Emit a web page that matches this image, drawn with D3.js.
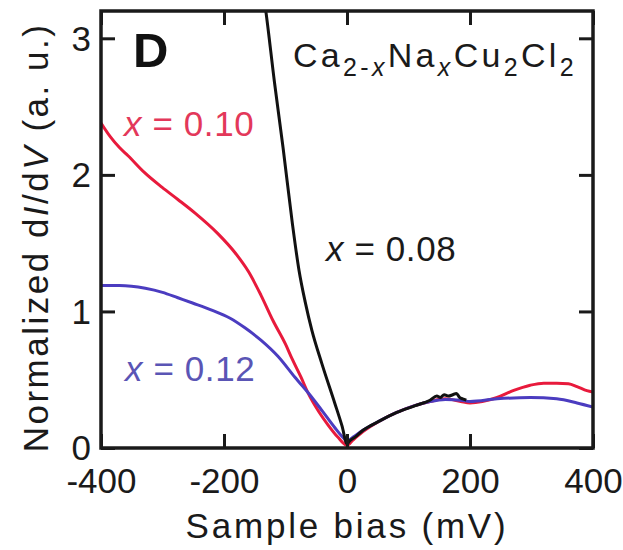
<!DOCTYPE html>
<html>
<head>
<meta charset="utf-8">
<script src="https://cdn.jsdelivr.net/npm/d3@7"></script>
<style>
  html, body { margin: 0; padding: 0; background: #fff; }
  svg { display: block; font-family: "Liberation Sans", Arial, Helvetica, sans-serif; }
</style>
</head>
<body>
<svg id="chart" width="623" height="550"></svg>
<script>
// Sample bias (mV) and normalized dI/dV for each Na doping level
const biasX008 = [-140, -132, -118, -104, -89, -78, -68, -57, -41, -20, -8, 0, 4, 13, 26, 54, 81, 111, 135, 146, 152, 158, 165, 172, 178, 183, 188, 194];
const didvX008 = [3.45, 3.20, 2.68, 2.20, 1.65, 1.30, 1.07, 0.86, 0.62, 0.33, 0.16, 0.03, 0.05, 0.08, 0.13, 0.20, 0.26, 0.31, 0.35, 0.38, 0.37, 0.39, 0.38, 0.39, 0.40, 0.37, 0.36, 0.35];

const biasX010 = [-400, -385, -370, -356, -330, -301, -275, -247, -210, -182, -160, -140, -120, -100, -89, -75, -63, -45, -31, -15, 0, 10, 26, 54, 81, 110, 135, 160, 185, 200, 220, 244, 270, 298, 320, 341, 360, 374, 390, 400];
const didvX010 = [2.38, 2.28, 2.20, 2.14, 2.02, 1.91, 1.82, 1.72, 1.57, 1.43, 1.29, 1.12, 0.93, 0.76, 0.65, 0.52, 0.40, 0.26, 0.17, 0.08, 0.02, 0.06, 0.12, 0.20, 0.26, 0.31, 0.34, 0.36, 0.34, 0.33, 0.34, 0.37, 0.42, 0.46, 0.475, 0.475, 0.47, 0.45, 0.42, 0.41];

const biasX012 = [-400, -370, -328, -300, -275, -250, -220, -190, -166, -140, -112, -85, -57, -40, -20, -5, 0, 10, 26, 54, 81, 110, 135, 160, 185, 200, 244, 298, 341, 374, 400];
const didvX012 = [1.19, 1.19, 1.17, 1.14, 1.10, 1.06, 1.01, 0.95, 0.88, 0.79, 0.67, 0.52, 0.37, 0.27, 0.15, 0.07, 0.05, 0.08, 0.13, 0.20, 0.26, 0.31, 0.34, 0.355, 0.35, 0.34, 0.36, 0.37, 0.36, 0.33, 0.30];

const xTicks = [-400, -200, 0, 200, 400];
const yTicks = [0, 1, 2, 3];

(function draw() {
  const series = [
    { x: biasX010, y: didvX010, color: "#e81a3c" },
    { x: biasX012, y: didvX012, color: "#4b3cc0" },
    { x: biasX008, y: didvX008, color: "#111111" }
  ];

  const svg = d3.select("#chart");
  const pLeft = 101, pRight = 593, pTop = 11, pBottom = 448;

  const x = d3.scaleLinear().domain([-400, 400]).range([pLeft, pRight]);
  const y = d3.scaleLinear().domain([0, 3.2]).range([pBottom, pTop]);

  svg.append("defs").append("clipPath").attr("id", "plot")
    .append("rect").attr("x", pLeft).attr("y", pTop)
    .attr("width", pRight - pLeft).attr("height", pBottom - pTop);

  // curves
  const g = svg.append("g").attr("clip-path", "url(#plot)");
  const line = d3.line().x(d => x(d[0])).y(d => y(d[1])).curve(d3.curveMonotoneX);
  series.forEach(s => {
    const pts = s.x.map((v, i) => [v, s.y[i]]);
    g.append("path")
      .datum(pts)
      .attr("fill", "none")
      .attr("stroke", s.color)
      .attr("stroke-width", 3)
      .attr("stroke-linejoin", "round")
      .attr("d", line);
  });

  // axes with inward ticks on all four sides
  const tickLen = 14;
  const fmtX = d => d < 0 ? "-" + Math.abs(d) : String(d);
  const axB = svg.append("g").attr("transform", `translate(0,${pBottom})`)
    .call(d3.axisBottom(x).tickValues(xTicks).tickSize(-tickLen).tickPadding(20).tickFormat(fmtX));
  const axT = svg.append("g").attr("transform", `translate(0,${pTop})`)
    .call(d3.axisTop(x).tickValues(xTicks).tickSize(-tickLen).tickFormat(""));
  const axL = svg.append("g").attr("transform", `translate(${pLeft},0)`)
    .call(d3.axisLeft(y).tickValues(yTicks).tickSize(-tickLen).tickPadding(10).tickFormat(d3.format("d")));
  const axR = svg.append("g").attr("transform", `translate(${pRight},0)`)
    .call(d3.axisRight(y).tickValues(yTicks).tickSize(-tickLen).tickFormat(""));

  [axB, axT, axL, axR].forEach(a => {
    a.select(".domain").remove();
    a.selectAll(".tick line").attr("stroke", "#1a1a1a").attr("stroke-width", 3);
    a.selectAll(".tick text").attr("fill", "#1a1a1a").attr("font-size", 35).attr("font-family", null);
  });
  axB.selectAll(".tick text").attr("dy", "0.71em");
  axL.selectAll(".tick text").attr("dy", "0.34em");

  // frame
  svg.append("rect")
    .attr("x", pLeft).attr("y", pTop)
    .attr("width", pRight - pLeft).attr("height", pBottom - pTop)
    .attr("fill", "none").attr("stroke", "#1a1a1a").attr("stroke-width", 3.5);

  // axis titles
  svg.append("text")
    .attr("x", (pLeft + pRight) / 2).attr("y", 538)
    .attr("text-anchor", "middle").attr("font-size", 35)
    .attr("letter-spacing", 2.8).attr("fill", "#1a1a1a")
    .text("Sample bias (mV)");

  const yl = svg.append("text")
    .attr("transform", `translate(48,${(pTop + pBottom) / 2 + 8}) rotate(-90)`)
    .attr("text-anchor", "middle").attr("font-size", 35)
    .attr("letter-spacing", 2.5).attr("fill", "#1a1a1a");
  yl.append("tspan").text("Normalized d");
  yl.append("tspan").attr("font-style", "italic").text("I");
  yl.append("tspan").text("/d");
  yl.append("tspan").attr("font-style", "italic").text("V");
  yl.append("tspan").text(" (a. u.)");

  // panel letter
  svg.append("text")
    .attr("x", 133).attr("y", 67)
    .attr("font-size", 49).attr("font-weight", "bold").attr("fill", "#111")
    .text("D");

  // compound formula
  const formula = svg.append("text")
    .attr("x", 293).attr("y", 67)
    .attr("font-size", 34).attr("letter-spacing", 3.3).attr("fill", "#1a1a1a");
  const parts = [
    ["Ca", false, false], ["2-", true, false], ["x", true, true],
    ["Na", false, false], ["x", true, true],
    ["Cu", false, false], ["2", true, false],
    ["Cl", false, false], ["2", true, false]
  ];
  let wasSub = false;
  parts.forEach(([t, sub, it]) => {
    const ts = formula.append("tspan").text(t);
    if (sub) {
      ts.attr("font-size", 25);
      if (!wasSub) ts.attr("dy", 9);
    } else if (wasSub) {
      ts.attr("dy", -9);
    }
    if (it) ts.attr("font-style", "italic");
    wasSub = sub;
  });

  // doping labels
  const labels = [
    { text: "0.10", x: 124, y: 136, color: "#e3385a" },
    { text: "0.08", x: 326, y: 261, color: "#1a1a1a" },
    { text: "0.12", x: 125, y: 381, color: "#5a55b5" }
  ];
  labels.forEach(l => {
    const t = svg.append("text")
      .attr("x", l.x).attr("y", l.y)
      .attr("font-size", 35).attr("letter-spacing", 0.6).attr("fill", l.color);
    t.append("tspan").attr("font-style", "italic").text("x");
    t.append("tspan").text(" = " + l.text);
  });
})();
</script>
</body>
</html>
